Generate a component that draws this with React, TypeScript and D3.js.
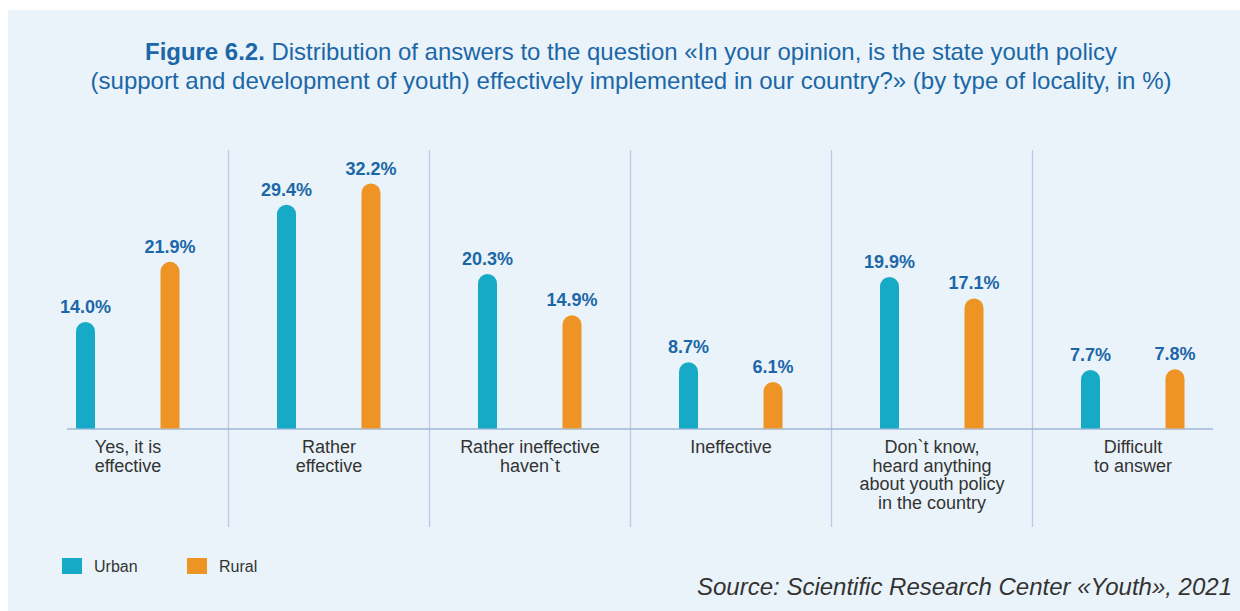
import React from "react";
import * as d3 from "d3";

const categories = [
  ["Yes, it is", "effective"],
  ["Rather", "effective"],
  ["Rather ineffective", "haven`t"],
  ["Ineffective"],
  ["Don`t know,", "heard anything", "about youth policy", "in the country"],
  ["Difficult", "to answer"],
];
const urban = [14.0, 29.4, 20.3, 8.7, 19.9, 7.7];
const rural = [21.9, 32.2, 14.9, 6.1, 17.1, 7.8];
const seriesNames = ["Urban", "Rural"];
const colors = ["#17aac6", "#ee9424"];

const W = 1240;
const H = 611;
const baseY = 428.5;

export default function App() {
  const keys = categories.map((_, i) => String(i));
  const x = d3.scaleBand<string>().domain(keys).range([27.5, 1233.5]).padding(0);
  const y = d3.scaleLinear().domain([0, 32.2]).range([baseY, 183.5]);
  const barW = 19;
  const offs = [-42.5, 42];
  const blue = "#1b67a7";
  const textCol = "#333333";
  const font = "'Liberation Sans', Arial, sans-serif";

  const roundedTop = (cx: number, v: number) => {
    const top = y(v);
    const r = barW / 2;
    const x0 = cx - r;
    const x1 = cx + r;
    const p = d3.path();
    p.moveTo(x0, baseY);
    p.lineTo(x0, top + r);
    p.arc(cx, top + r, r, Math.PI, 0);
    p.lineTo(x1, baseY);
    p.closePath();
    return p.toString();
  };

  return (
    <svg
      width={W}
      height={H}
      style={{ position: "absolute", left: 0, top: 0 }}
      fontFamily={font}
    >
      <rect x={0} y={0} width={W} height={H} fill="#ffffff" />
      <rect x={8} y={10} width={W - 8} height={H - 10} fill="#eaf3f9" />
      <text x={631} y={60} textAnchor="middle" fontSize={24} fill={blue} textLength={972} lengthAdjust="spacingAndGlyphs">
        <tspan fontWeight="bold">Figure 6.2.</tspan>
        <tspan> Distribution of answers to the question «In your opinion, is the state youth policy</tspan>
      </text>
      <text x={631} y={89} textAnchor="middle" fontSize={24} fill={blue} textLength={1081} lengthAdjust="spacingAndGlyphs">
        (support and development of youth) effectively implemented in our country?» (by type of locality, in %)
      </text>

      {keys.slice(1).map((k) => (
        <line
          key={"d" + k}
          x1={x(k)!}
          x2={x(k)!}
          y1={150}
          y2={527}
          stroke="#bccbe3"
          strokeWidth={1.3}
        />
      ))}
      <line x1={67} x2={1213} y1={baseY + 0.5} y2={baseY + 0.5} stroke="#9fb6d8" strokeWidth={1.6} />

      {keys.map((k, i) => {
        const c = x(k)! + x.bandwidth() / 2;
        return (
          <g key={"c" + k}>
            {[urban[i], rural[i]].map((v, s) => {
              const bx = c + offs[s];
              return (
                <g key={s}>
                  <path d={roundedTop(bx, v)} fill={colors[s]} />
                  <text
                    x={bx}
                    y={y(v) - 9}
                    textAnchor="middle"
                    fontSize={18}
                    fontWeight="bold"
                    fill={blue}
                  >
                    {v.toFixed(1)}%
                  </text>
                </g>
              );
            })}
            <text textAnchor="middle" fontSize={18} fill={textCol}>
              {categories[i].map((line, j) => (
                <tspan key={j} x={c} y={453 + j * 18.7}>
                  {line}
                </tspan>
              ))}
            </text>
          </g>
        );
      })}

      {seriesNames.map((n, s) => (
        <g key={n} transform={`translate(${62 + s * 125},558)`}>
          <rect width={20} height={16} fill={colors[s]} />
          <text x={32} y={13.5} fontSize={16} fill={textCol}>
            {n}
          </text>
        </g>
      ))}

      <text
        x={1232}
        y={595}
        textAnchor="end"
        fontSize={24}
        fontStyle="italic"
        fill={textCol}
      >
        Source: Scientific Research Center «Youth», 2021
      </text>
    </svg>
  );
}
